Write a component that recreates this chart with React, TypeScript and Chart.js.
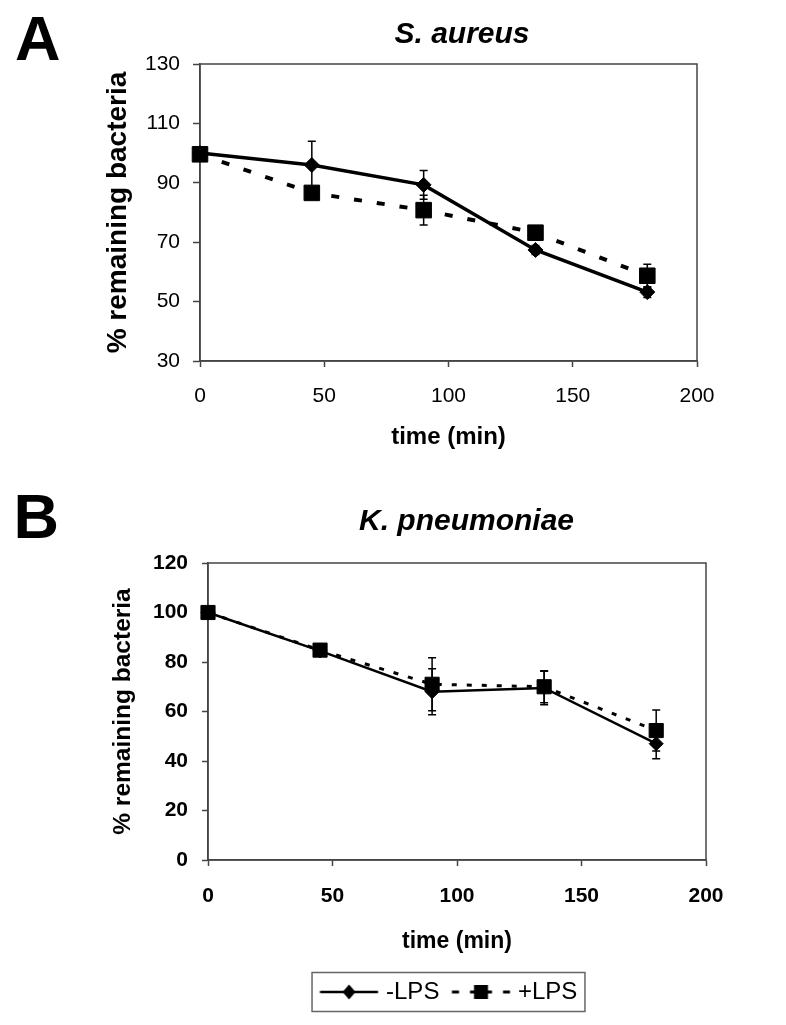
import React, { useEffect, useRef } from "react";
import { Chart, registerables } from "chart.js";

Chart.register(...registerables);

const FONT = '"Liberation Sans", Arial, Helvetica, sans-serif';

// ---------- data ----------
const timeMin = [0, 45, 90, 135, 180];
const seriesNames = ["-LPS", "+LPS"];

const aureusMinusLPS = [100, 96, 89.3, 67.4, 53.2];
const aureusMinusLPSErr = [0.5, 8, 4.8, 1.5, 1.8];
const aureusPlusLPS = [99.6, 86.6, 80.8, 73.2, 58.7];
const aureusPlusLPSErr = [0.5, 1.5, 5, 1.5, 3.9];

const pneumoniaeMinusLPS = [100, 84.5, 68, 69.5, 47];
const pneumoniaeMinusLPSErr = [0.5, 1, 9.3, 6.8, 6.1];
const pneumoniaePlusLPS = [100, 84.8, 71, 70, 52.3];
const pneumoniaePlusLPSErr = [0.5, 1.5, 10.7, 6.5, 8.3];

const xTicks = [0, 50, 100, 150, 200];
const aureusYTicks = [30, 50, 70, 90, 110, 130];
const pneumoniaeYTicks = [0, 20, 40, 60, 80, 100, 120];

const panelLetters = ["A", "B"];
const panelTitles = ["S. aureus", "K. pneumoniae"];
const xTitle = "time (min)";
const yTitle = "% remaining bacteria";

// ---------- helpers ----------
const pts = (xs: number[], ys: number[]) => xs.map((x, i) => ({ x, y: ys[i] }));

const errorBarPlugin = {
  id: "errorBars",
  beforeDatasetsDraw(chart: any) {
    const { ctx } = chart;
    const yScale = chart.scales.y;
    chart.data.datasets.forEach((ds: any, di: number) => {
      const errs: number[] | undefined = ds.errors;
      if (!errs) return;
      const meta = chart.getDatasetMeta(di);
      ctx.save();
      ctx.strokeStyle = "#000";
      ctx.lineWidth = 1.5;
      meta.data.forEach((p: any, i: number) => {
        const v = ds.data[i].y;
        const e = errs[i];
        const yt = yScale.getPixelForValue(v + e);
        const yb = yScale.getPixelForValue(v - e);
        ctx.beginPath();
        ctx.moveTo(p.x, yt);
        ctx.lineTo(p.x, yb);
        ctx.moveTo(p.x - 4, yt);
        ctx.lineTo(p.x + 4, yt);
        ctx.moveTo(p.x - 4, yb);
        ctx.lineTo(p.x + 4, yb);
        ctx.stroke();
      });
      ctx.restore();
    });
  },
};

const framePlugin = {
  id: "plotFrame",
  beforeDatasetsDraw(chart: any) {
    const { ctx, chartArea: a } = chart;
    ctx.save();
    ctx.strokeStyle = "#444";
    ctx.lineWidth = 1.5;
    ctx.strokeRect(a.left, a.top, a.right - a.left, a.bottom - a.top);
    ctx.restore();
  },
};

function panelTextPlugin(cfg: {
  letter: string;
  letterX: number;
  letterY: number;
  title: string;
  titleX: number;
  titleY: number;
}) {
  return {
    id: "panelText",
    afterDraw(chart: any) {
      const { ctx } = chart;
      ctx.save();
      ctx.fillStyle = "#000";
      ctx.textBaseline = "alphabetic";
      ctx.textAlign = "left";
      ctx.font = `bold 63px ${FONT}`;
      ctx.fillText(cfg.letter, cfg.letterX, cfg.letterY);
      ctx.textAlign = "center";
      ctx.font = `italic bold 30px ${FONT}`;
      ctx.fillText(cfg.title, cfg.titleX, cfg.titleY);
      ctx.restore();
    },
  };
}

const legendFramePlugin = {
  id: "legendFrame",
  afterDraw(chart: any) {
    const lg = chart.legend;
    if (!lg || !lg.legendHitBoxes || !lg.legendHitBoxes.length) return;
    const hb = lg.legendHitBoxes;
    const first = hb[0];
    const last = hb[hb.length - 1];
    const left = first.left - 24.6;
    const right = last.left + last.width + 7.6;
    const cy = first.top + first.height / 2;
    const { ctx } = chart;
    ctx.save();
    ctx.strokeStyle = "#666";
    ctx.lineWidth = 1.5;
    ctx.strokeRect(left, cy - 19.5, right - left, 39);
    ctx.restore();
  },
};

function makeIcon(kind: "diamond" | "square"): HTMLCanvasElement {
  const c = document.createElement("canvas");
  c.width = 72;
  c.height = 24;
  const g = c.getContext("2d")!;
  const cx = 29.7;
  const cy = 12;
  g.fillStyle = "#000";
  g.strokeStyle = "#000";
  if (kind === "diamond") {
    g.lineWidth = 2.5;
    g.beginPath();
    g.moveTo(cx - 29, cy);
    g.lineTo(cx + 29, cy);
    g.stroke();
    g.beginPath();
    g.moveTo(cx - 6.5, cy);
    g.lineTo(cx, cy - 7.5);
    g.lineTo(cx + 6.5, cy);
    g.lineTo(cx, cy + 7.5);
    g.closePath();
    g.fill();
  } else {
    g.lineWidth = 3;
    [
      [-29, -22],
      [-11, 11],
      [22, 29],
    ].forEach(([a, b]) => {
      g.beginPath();
      g.moveTo(cx + a, cy);
      g.lineTo(cx + b, cy);
      g.stroke();
    });
    g.fillRect(cx - 7, cy - 7, 14, 14);
  }
  return c;
}

function xScale(opts: {
  bold: boolean;
  tickPad: number;
  titleSize: number;
  titleBottom: number;
  height: number;
}) {
  return {
    type: "linear",
    min: xTicks[0],
    max: xTicks[xTicks.length - 1],
    ticks: {
      stepSize: xTicks[1] - xTicks[0],
      padding: opts.tickPad,
      color: "#000",
      font: { family: FONT, size: 21, weight: opts.bold ? "bold" : "normal" },
    },
    grid: {
      display: true,
      drawOnChartArea: false,
      drawTicks: true,
      tickLength: 6,
      tickColor: "#444",
      tickWidth: 1.5,
    },
    border: { color: "#444", width: 1.5 },
    title: {
      display: true,
      text: xTitle,
      color: "#000",
      font: { family: FONT, size: opts.titleSize, weight: "bold" },
      padding: { top: 0, bottom: opts.titleBottom },
    },
    afterFit: (s: any) => {
      s.height = opts.height;
    },
  };
}

function yScale(opts: {
  ticks: number[];
  bold: boolean;
  tickPad: number;
  tickLen: number;
  titleSize: number;
  titleTop: number;
  width: number;
}) {
  return {
    type: "linear",
    min: opts.ticks[0],
    max: opts.ticks[opts.ticks.length - 1],
    ticks: {
      stepSize: opts.ticks[1] - opts.ticks[0],
      padding: opts.tickPad,
      color: "#000",
      font: { family: FONT, size: 21, weight: opts.bold ? "bold" : "normal" },
    },
    grid: {
      display: true,
      drawOnChartArea: false,
      drawTicks: true,
      tickLength: opts.tickLen,
      tickColor: "#444",
      tickWidth: 1.5,
    },
    border: { color: "#444", width: 1.5 },
    title: {
      display: true,
      text: yTitle,
      color: "#000",
      font: { family: FONT, size: opts.titleSize, weight: "bold" },
      padding: { top: opts.titleTop, bottom: 0 },
    },
    afterFit: (s: any) => {
      s.width = opts.width;
    },
  };
}

function datasets(
  minus: number[],
  minusErr: number[],
  plus: number[],
  plusErr: number[],
  st: { solidW: number; dashW: number; dash: number[]; dR: number; sR: number }
) {
  return [
    {
      label: seriesNames[1],
      data: pts(timeMin, plus),
      errors: plusErr,
      borderColor: "#000",
      backgroundColor: "#000",
      borderWidth: st.dashW,
      borderDash: st.dash,
      borderCapStyle: "butt",
      pointStyle: "rect",
      pointRadius: st.sR,
      pointBorderWidth: 1,
      pointBackgroundColor: "#000",
      pointBorderColor: "#000",
      tension: 0,
      order: 0,
      clip: false,
    },
    {
      label: seriesNames[0],
      data: pts(timeMin, minus),
      errors: minusErr,
      borderColor: "#000",
      backgroundColor: "#000",
      borderWidth: st.solidW,
      pointStyle: "rectRot",
      pointRadius: st.dR,
      pointBorderWidth: 1,
      pointBackgroundColor: "#000",
      pointBorderColor: "#000",
      tension: 0,
      order: 1,
      clip: false,
    },
  ];
}

export default function App() {
  const refA = useRef<HTMLCanvasElement>(null);
  const refB = useRef<HTMLCanvasElement>(null);

  useEffect(() => {
    const iconMinus = makeIcon("diamond");
    const iconPlus = makeIcon("square");

    const chartA = new Chart(refA.current as HTMLCanvasElement, {
      type: "line",
      data: {
        datasets: datasets(aureusMinusLPS, aureusMinusLPSErr, aureusPlusLPS, aureusPlusLPSErr, {
          solidW: 3.5,
          dashW: 4,
          dash: [8, 15],
          dR: 7.5,
          sR: 11,
        }) as any,
      },
      options: {
        responsive: false,
        animation: false,
        events: [],
        layout: { padding: { left: 90, right: 89, top: 64, bottom: 0 } },
        plugins: {
          legend: { display: false },
          tooltip: { enabled: false },
          title: { display: false },
        },
        scales: {
          x: xScale({ bold: false, tickPad: 16.4, titleSize: 24, titleBottom: 18.6, height: 109 }) as any,
          y: yScale({
            ticks: aureusYTicks,
            bold: false,
            tickPad: 13,
            tickLen: 7,
            titleSize: 28,
            titleTop: 11.2,
            width: 110,
          }) as any,
        },
      },
      plugins: [
        framePlugin,
        errorBarPlugin,
        panelTextPlugin({
          letter: panelLetters[0],
          letterX: 15,
          letterY: 60,
          title: panelTitles[0],
          titleX: 462,
          titleY: 43,
        }),
      ],
    } as any);

    const chartB = new Chart(refB.current as HTMLCanvasElement, {
      type: "line",
      data: {
        datasets: datasets(
          pneumoniaeMinusLPS,
          pneumoniaeMinusLPSErr,
          pneumoniaePlusLPS,
          pneumoniaePlusLPSErr,
          { solidW: 2.5, dashW: 3, dash: [5, 10], dR: 7, sR: 10 }
        ) as any,
      },
      options: {
        responsive: false,
        animation: false,
        events: [],
        layout: { padding: { left: 95, right: 80, top: 93, bottom: 11 } },
        plugins: {
          tooltip: { enabled: false },
          title: { display: false },
          legend: {
            display: true,
            position: "bottom",
            fullSize: false,
            labels: {
              usePointStyle: true,
              pointStyleWidth: 37.4,
              padding: 29.2,
              color: "#000",
              font: { family: FONT, size: 24, weight: "normal" },
              generateLabels: () => [
                {
                  text: seriesNames[0],
                  pointStyle: iconMinus,
                  fillStyle: "#000",
                  strokeStyle: "#000",
                  lineWidth: 0,
                  hidden: false,
                  datasetIndex: 1,
                  fontColor: "#000",
                },
                {
                  text: seriesNames[1],
                  pointStyle: iconPlus,
                  fillStyle: "#000",
                  strokeStyle: "#000",
                  lineWidth: 0,
                  hidden: false,
                  datasetIndex: 0,
                  fontColor: "#000",
                },
              ],
            },
          },
        },
        scales: {
          x: xScale({ bold: true, tickPad: 17.4, titleSize: 23, titleBottom: -5, height: 90.8 }) as any,
          y: yScale({
            ticks: pneumoniaeYTicks,
            bold: true,
            tickPad: 14,
            tickLen: 6,
            titleSize: 24.5,
            titleTop: 13.3,
            width: 113,
          }) as any,
        },
      },
      plugins: [
        framePlugin,
        errorBarPlugin,
        legendFramePlugin,
        panelTextPlugin({
          letter: panelLetters[1],
          letterX: 13.5,
          letterY: 68,
          title: panelTitles[1],
          titleX: 466.5,
          titleY: 60,
        }),
      ],
    } as any);

    return () => {
      chartA.destroy();
      chartB.destroy();
    };
  }, []);

  return (
    <div
      style={{
        position: "absolute",
        left: 0,
        top: 0,
        width: 786,
        height: 1025,
        background: "#fff",
      }}
    >
      <canvas
        ref={refA}
        width={786}
        height={470}
        style={{ position: "absolute", left: 0, top: 0, width: 786, height: 470 }}
      />
      <canvas
        ref={refB}
        width={786}
        height={555}
        style={{ position: "absolute", left: 0, top: 470, width: 786, height: 555 }}
      />
    </div>
  );
}
